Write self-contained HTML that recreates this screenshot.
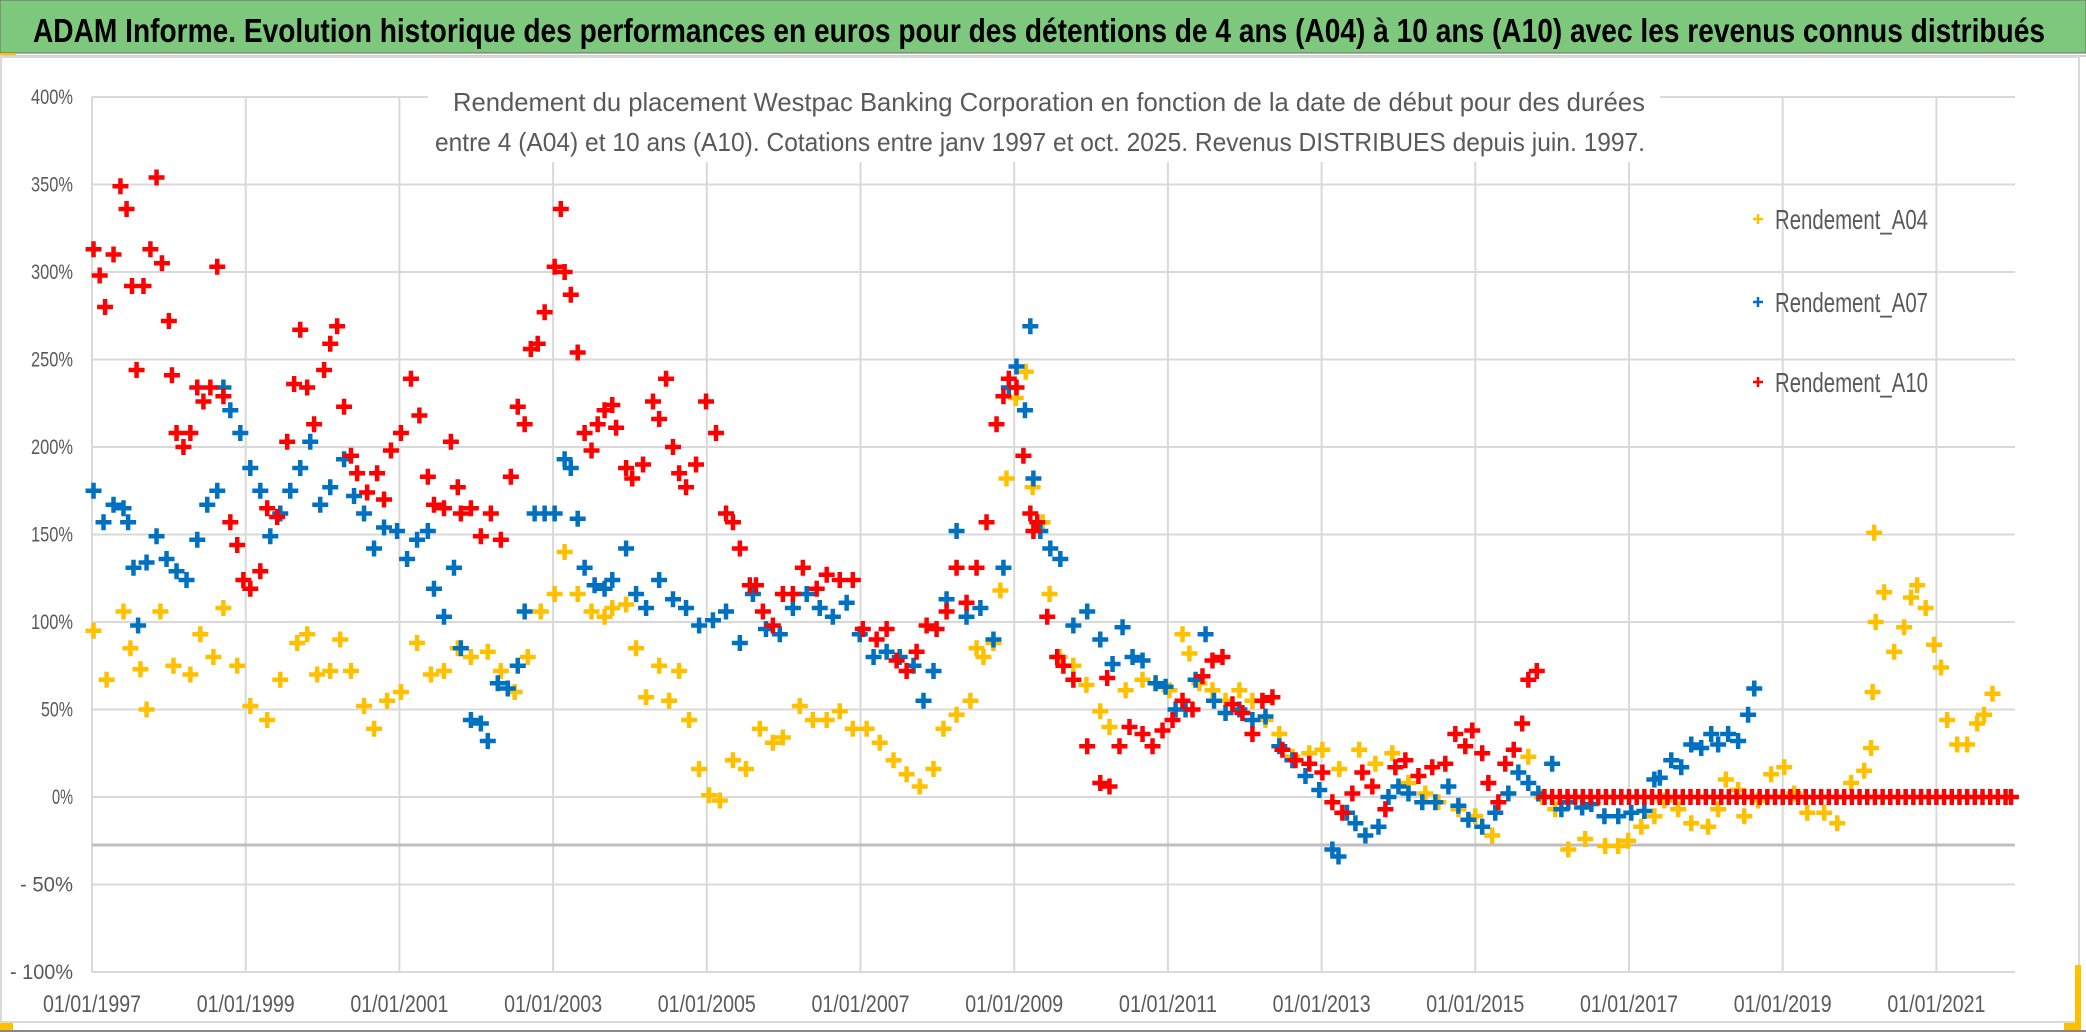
<!DOCTYPE html>
<html><head><meta charset="utf-8"><style>
html,body{margin:0;padding:0;background:#fff;}
svg{display:block;}
text{font-family:"Liberation Sans Narrow","Liberation Sans",sans-serif;}
</style></head><body>
<svg id="chart" width="2086" height="1032" viewBox="0 0 2086 1032" xmlns="http://www.w3.org/2000/svg">
<rect x="0" y="0" width="2086" height="1032" fill="#fff"/>
<rect x="0" y="0" width="2086" height="53" fill="#7DC87D" stroke="#6a6a6a" stroke-width="1"/>
<text x="33" y="42" font-size="33" font-weight="bold" fill="#000" textLength="2012" lengthAdjust="spacingAndGlyphs">ADAM Informe. Evolution historique des performances en euros pour des détentions de 4 ans (A04) à 10 ans (A10) avec les revenus connus distribués</text>
<rect x="0" y="53" width="16" height="4" fill="#FFC000"/>
<line x1="0" y1="56" x2="2086" y2="56" stroke="#d0d0d0" stroke-width="2"/>
<rect x="1" y="57" width="2078" height="965" fill="none" stroke="#d9d9d9" stroke-width="2"/>
<rect x="0" y="1023" width="13" height="7" fill="#FFC000"/>
<rect x="2075" y="965" width="6" height="62" fill="#FFC000"/>
<rect x="2064" y="1023" width="17" height="7" fill="#FFC000"/>
<line x1="0" y1="1031" x2="2086" y2="1031" stroke="#888" stroke-width="2"/>
<g id="grid"></g>
<g id="axes"></g>
<g id="marks"></g>
<rect x="428" y="74" width="1232" height="88" fill="#fff"/>
<text x="1049" y="111" font-size="26" fill="#595959" text-anchor="middle" textLength="1192" lengthAdjust="spacingAndGlyphs">Rendement du placement Westpac Banking Corporation en fonction de la date de début pour des durées</text>
<text x="1040" y="151" font-size="26" fill="#595959" text-anchor="middle" textLength="1210" lengthAdjust="spacingAndGlyphs">entre 4 (A04) et 10 ans (A10). Cotations entre janv 1997 et oct. 2025. Revenus DISTRIBUES depuis juin. 1997.</text>
<g id="legend"></g>
</svg>
<script>
// ---- data ----
const yTicks = [400,350,300,250,200,150,100,50,0,-50,-100];
const yTickLabels = ["400%","350%","300%","250%","200%","150%","100%","50%","0%","- 50%","- 100%"];
const xTickYears = [1997,1999,2001,2003,2005,2007,2009,2011,2013,2015,2017,2019,2021];
const xTickLabels = ["01/01/1997","01/01/1999","01/01/2001","01/01/2003","01/01/2005","01/01/2007","01/01/2009","01/01/2011","01/01/2013","01/01/2015","01/01/2017","01/01/2019","01/01/2021"];
const seriesNames = ["Rendement_A04","Rendement_A07","Rendement_A10"];

const a04Dates = [1997.02,1997.19,1997.41,1997.50,1997.63,1997.71,1997.89,1998.06,1998.28,1998.41,1998.58,1998.71,1998.89,1999.06,1999.28,1999.45,1999.67,1999.80,1999.93,2000.10,2000.23,2000.37,2000.54,2000.67,2000.84,2001.02,2001.23,2001.41,2001.58,2001.76,2001.93,2002.15,2002.32,2002.50,2002.67,2002.84,2003.02,2003.15,2003.32,2003.50,2003.67,2003.77,2003.95,2004.08,2004.21,2004.38,2004.51,2004.64,2004.77,2004.90,2005.03,2005.17,2005.34,2005.51,2005.69,2005.86,2005.99,2006.21,2006.38,2006.56,2006.73,2006.90,2007.08,2007.25,2007.43,2007.60,2007.77,2007.95,2008.08,2008.25,2008.43,2008.51,2008.60,2008.73,2008.82,2008.90,2009.02,2009.15,2009.24,2009.37,2009.46,2009.59,2009.77,2009.94,2010.12,2010.24,2010.45,2010.67,2010.84,2011.02,2011.19,2011.28,2011.41,2011.58,2011.75,2011.93,2012.10,2012.27,2012.45,2012.62,2012.84,2013.01,2013.23,2013.49,2013.70,2013.92,2014.13,2014.35,2014.52,2014.78,2015.00,2015.22,2015.43,2015.69,2015.87,2016.04,2016.21,2016.43,2016.69,2016.86,2016.99,2017.16,2017.33,2017.46,2017.64,2017.81,2018.03,2018.16,2018.26,2018.42,2018.50,2018.68,2018.85,2019.02,2019.15,2019.32,2019.54,2019.71,2019.89,2020.06,2020.15,2020.17,2020.19,2020.21,2020.32,2020.45,2020.58,2020.67,2020.75,2020.86,2020.97,2021.06,2021.14,2021.27,2021.40,2021.53,2021.62,2021.73];
const a04Values = [95,67,106,85,73,50,106,75,70,93,80,108,75,52,44,67,88,93,70,72,90,72,52,39,55,60,88,70,72,85,80,83,72,60,80,106,116,140,116,106,103,108,110,85,57,75,55,72,44,16,1,-2,21,16,39,31,34,52,44,44,49,39,39,31,21,13,6,16,39,47,55,85,80,88,118,182,228,243,177,157,116,80,75,64,49,40,61,67,65,61,93,82,65,61,55,61,55,44,36,23,25,27,16,27,19,25,8,2,-3,-7,-11,-22,2,23,0,-7,-30,-24,-28,-28,-25,-17,-11,-2,-7,-15,-17,-7,10,4,-11,-2,13,17,2,-9,-9,-15,8,15,28,60,151,100,117,83,97,114,121,108,87,74,44,30,30,42,47,59];

const a07Dates = [1997.02,1997.15,1997.28,1997.41,1997.47,1997.54,1997.60,1997.71,1997.84,1997.97,1998.10,1998.23,1998.37,1998.50,1998.63,1998.71,1998.80,1998.93,1999.06,1999.19,1999.32,1999.45,1999.58,1999.71,1999.84,1999.97,2000.10,2000.28,2000.41,2000.54,2000.67,2000.80,2000.97,2001.10,2001.23,2001.37,2001.45,2001.58,2001.71,2001.80,2001.93,2002.06,2002.15,2002.28,2002.41,2002.54,2002.63,2002.76,2002.89,2003.02,2003.15,2003.23,2003.32,2003.41,2003.54,2003.67,2003.77,2003.95,2004.08,2004.21,2004.38,2004.56,2004.73,2004.90,2005.08,2005.25,2005.43,2005.60,2005.77,2005.95,2006.12,2006.30,2006.47,2006.64,2006.82,2006.99,2007.17,2007.34,2007.51,2007.69,2007.82,2007.95,2008.12,2008.25,2008.38,2008.56,2008.73,2008.86,2008.93,2009.03,2009.14,2009.21,2009.25,2009.34,2009.47,2009.60,2009.77,2009.95,2010.12,2010.28,2010.41,2010.54,2010.67,2010.84,2010.97,2011.10,2011.23,2011.36,2011.49,2011.60,2011.75,2011.93,2012.10,2012.27,2012.45,2012.62,2012.79,2012.97,2013.14,2013.22,2013.33,2013.44,2013.57,2013.74,2013.87,2014.00,2014.13,2014.31,2014.48,2014.65,2014.78,2014.91,2015.09,2015.26,2015.43,2015.56,2015.69,2015.82,2016.00,2016.12,2016.21,2016.39,2016.51,2016.68,2016.86,2017.03,2017.20,2017.33,2017.40,2017.55,2017.68,2017.81,2017.94,2018.07,2018.16,2018.29,2018.42,2018.55,2018.63,2018.72];
const a07Values = [175,157,167,165,157,131,98,134,149,136,129,124,147,167,175,234,221,208,188,175,149,162,175,188,203,167,177,193,172,162,142,154,152,136,147,152,119,103,131,85,44,42,32,65,62,75,106,162,162,162,193,188,159,131,121,119,124,142,116,108,124,113,108,98,101,106,88,116,96,93,108,116,108,103,111,93,80,83,80,75,55,72,113,152,103,108,90,131,234,246,221,269,182,152,142,136,98,106,90,76,97,80,78,65,63,50,50,67,93,55,48,50,44,46,29,21,12,4,-30,-34,-9,-15,-22,-17,0,6,2,-3,-3,6,-5,-13,-17,-9,2,14,8,2,19,-7,-3,-6,-4,-11,-11,-9,-8,10,11,21,17,30,28,36,30,36,32,47,62];

const a10Dates = [1997.02,1997.10,1997.17,1997.28,1997.37,1997.45,1997.52,1997.58,1997.67,1997.76,1997.84,1997.91,1998.00,1998.04,1998.10,1998.19,1998.28,1998.37,1998.45,1998.54,1998.63,1998.71,1998.80,1998.89,1998.97,1999.06,1999.19,1999.28,1999.41,1999.54,1999.63,1999.71,1999.80,1999.89,2000.02,2000.10,2000.19,2000.28,2000.37,2000.45,2000.58,2000.71,2000.80,2000.89,2001.02,2001.15,2001.26,2001.37,2001.45,2001.58,2001.67,2001.76,2001.80,2001.93,2002.06,2002.19,2002.32,2002.45,2002.54,2002.63,2002.71,2002.80,2002.89,2003.02,2003.10,2003.15,2003.23,2003.32,2003.41,2003.50,2003.58,2003.67,2003.77,2003.82,2003.95,2004.03,2004.17,2004.30,2004.38,2004.47,2004.56,2004.64,2004.73,2004.86,2004.99,2005.12,2005.25,2005.34,2005.43,2005.56,2005.64,2005.73,2005.86,2005.99,2006.12,2006.25,2006.43,2006.56,2006.73,2006.90,2007.03,2007.21,2007.34,2007.47,2007.60,2007.73,2007.86,2007.99,2008.12,2008.25,2008.38,2008.51,2008.64,2008.77,2008.86,2008.93,2009.03,2009.12,2009.21,2009.25,2009.30,2009.43,2009.56,2009.64,2009.77,2009.95,2010.12,2010.21,2010.24,2010.37,2010.50,2010.67,2010.80,2010.93,2011.06,2011.19,2011.32,2011.45,2011.58,2011.71,2011.84,2011.97,2012.10,2012.23,2012.36,2012.49,2012.66,2012.84,2013.01,2013.14,2013.27,2013.40,2013.53,2013.66,2013.83,2013.96,2014.09,2014.26,2014.44,2014.61,2014.74,2014.87,2014.96,2015.09,2015.17,2015.30,2015.39,2015.50,2015.61,2015.69,
2015.80,2015.90,2016.00,2016.10,2016.20,2016.30,2016.40,2016.50,2016.60,2016.70,2016.80,2016.90,2017.00,2017.10,2017.20,2017.30,2017.40,2017.50,2017.60,2017.70,2017.80,2017.90,2018.00,2018.10,2018.20,2018.30,2018.40,2018.50,2018.60,2018.70,2018.80,2018.90,2019.00,2019.10,2019.20,2019.30,2019.40,2019.50,2019.60,2019.70,2019.80,2019.90,2020.00,2020.10,2020.20,2020.30,2020.40,2020.50,2020.60,2020.70,2020.80,2020.90,2021.00,2021.10,2021.20,2021.30,2021.40,2021.50,2021.60,2021.70,2021.80,2021.90,2021.97];
const a10Values = [313,298,280,310,349,336,292,244,292,313,354,305,272,241,208,200,208,234,226,234,303,229,157,144,124,119,129,165,160,203,236,267,234,213,244,259,269,223,195,185,174,185,170,198,208,239,218,183,167,165,203,177,162,165,149,162,147,183,223,213,256,259,277,303,336,300,287,254,208,198,213,221,224,211,188,182,190,226,216,239,200,185,177,190,226,208,162,157,142,121,121,106,98,116,116,131,119,127,124,124,96,90,96,78,72,83,98,96,106,131,111,131,157,213,229,239,234,195,162,152,157,103,80,75,67,29,8,68,6,29,40,36,29,38,44,55,50,69,78,80,53,48,36,55,57,27,21,19,14,-3,-9,2,14,6,-7,17,21,12,17,19,36,29,38,25,8,-3,19,27,42,67,72,
0,0,0,0,0,0,0,0,0,0,0,0,0,0,0,0,0,0,0,0,0,0,0,0,0,0,0,0,0,0,0,0,0,0,0,0,0,0,0,0,0,0,0,0,0,0,0,0,0,0,0,0,0,0,0,0,0,0,0,0,0,0,0];

const seriesColors = ["#FFC000","#0070C0","#FF0000"];

// ---- scales ----
const X0 = 92, PX_PER_YEAR = 76.85, Y0 = 797, PX_PER_PCT = 1.75;
function xScale(year){ return X0 + (year - 1997) * PX_PER_YEAR; }
function yScale(v){ return Y0 - v * PX_PER_PCT; }
const PLOT_RIGHT = 2015, PLOT_TOP = yScale(400), PLOT_BOTTOM = yScale(-100);
const NS = "http://www.w3.org/2000/svg";
function mk(tag, attrs, parent){
  const e = document.createElementNS(NS, tag);
  for (const k in attrs) e.setAttribute(k, attrs[k]);
  parent.appendChild(e);
  return e;
}
const grid = document.getElementById('grid');
const axes = document.getElementById('axes');
const marks = document.getElementById('marks');
const legend = document.getElementById('legend');

yTicks.forEach((t, i) => {
  const y = yScale(t);
  const ln = mk('line', {x1: X0, y1: y, x2: PLOT_RIGHT, y2: y, stroke: '#d9d9d9', 'stroke-width': 2}, grid);
  
  
  const lbl = yTickLabels[i];
  const tx = mk('text', {x: 73, y: y + 7, 'font-size': 21, fill: '#595959', 'text-anchor': 'end', textLength: Math.round(lbl.length * 10.5), lengthAdjust: 'spacingAndGlyphs'}, axes);
  tx.textContent = lbl;
  
  
});
xTickYears.forEach((yr, i) => {
  const x = xScale(yr);
  const ln = mk('line', {x1: x, y1: PLOT_TOP, x2: x, y2: PLOT_BOTTOM, stroke: '#d9d9d9', 'stroke-width': 2}, grid);
  
  
  const tx = mk('text', {x: x, y: 1012, 'font-size': 24, fill: '#595959', 'text-anchor': 'middle', textLength: 98, lengthAdjust: 'spacingAndGlyphs'}, axes);
  tx.textContent = xTickLabels[i];
  
  
});
const axisLine = mk('line', {x1: X0, y1: 845, x2: PLOT_RIGHT, y2: 845, stroke: '#bfbfbf', 'stroke-width': 3}, axes);



function plus(x, y, s){ return 'M' + (x - s) + ' ' + y + 'h' + (2 * s) + 'M' + x + ' ' + (y - s) + 'v' + (2 * s); }
const allDates = [a04Dates, a07Dates, a10Dates];
const allValues = [a04Values, a07Values, a10Values];
allDates.forEach((dates, si) => {
  let d = '';
  dates.forEach((yr, i) => { d += plus(xScale(yr), yScale(allValues[si][i]), 8); });
  const p = mk('path', {d: d, stroke: seriesColors[si], 'stroke-width': 4.5, fill: 'none'}, marks);
  
  
});

const legendY = [219, 302, 382];
seriesNames.forEach((n, i) => {
  const m = mk('path', {d: plus(1758, legendY[i], 5), stroke: seriesColors[i], 'stroke-width': 2.5, fill: 'none'}, legend);
  
  
  const t = mk('text', {x: 1775, y: legendY[i] + 10, 'font-size': 28, fill: '#595959', textLength: 153, lengthAdjust: 'spacingAndGlyphs'}, legend);
  t.textContent = n;
  
  
});
</script>
</body></html>
